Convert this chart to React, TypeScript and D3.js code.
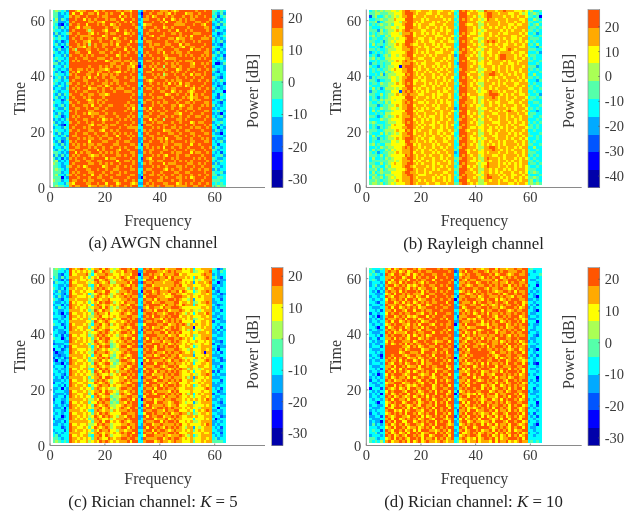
import React from "react";
import * as d3 from "d3";

// Colour levels per cell: 0 = lowest band of the colour bar, 9 = highest.
// Each string is one time row, top row first; spaces only group the frequency bins.
const awgnRows = [
"565453 99878 89997 89899 99889 88799 43 89989 98889 87899 99998 99899 55454",
"553434 97997 99889 79989 89997 99899 31 99899 88987 98999 78899 89999 54353",
"553344 89889 98999 89889 99979 89899 42 98978 99989 89998 99898 99899 45245",
"463543 99899 79898 99989 88997 99989 34 88999 89799 78989 89889 99998 53434",
"553334 98999 99889 88799 99899 89799 44 99989 98979 99889 89998 89989 44354",
"542143 89989 97999 89899 78989 99989 34 78899 99899 98888 99989 98799 34535",
"453534 99879 88899 99989 98899 99998 43 89998 99789 89999 98999 99889 43244",
"544343 98999 98689 99879 99799 89899 44 99889 89998 99799 89899 99989 35443",
"353445 89989 99879 89989 88999 78989 34 98999 99899 88989 99988 89999 44234",
"435343 99898 88899 99789 99989 99899 43 99879 98899 99989 89799 99898 34345",
"545443 98998 99889 88989 97899 89999 42 89999 89998 89788 99899 98889 53434",
"434234 99899 88799 98999 89889 99798 44 98899 99989 98898 99989 89999 43453",
"453435 99989 89698 99889 89799 98999 33 99898 89988 99979 88999 99899 34324",
"344143 89988 79898 99899 99889 89899 43 89889 99899 89987 99889 98999 54434",
"435334 98699 98899 89989 98999 79989 44 99989 88999 98899 99798 89989 43243",
"543434 99889 99799 98899 89989 98998 34 98999 89799 89889 98999 99889 34534",
"344353 89998 98989 99989 99789 89999 42 89899 99889 99989 89899 98989 54342",
"454434 99899 88999 88899 89989 99899 33 99989 89978 88999 99989 89899 43453",
"435344 98989 99898 99978 98889 88989 44 98899 99899 98989 88899 99998 44344",
"553434 99999 99999 99999 88998 99788 24 99989 89989 89899 99879 98989 41135",
"344354 99999 99899 98989 89889 98879 13 89898 99699 88989 99889 99899 34443",
"543443 89988 98989 98878 99989 98989 44 99979 88989 99789 98999 89989 54343",
"434234 98979 99889 88998 98779 89989 34 98899 99899 89899 89989 99899 43244",
"454434 89899 98899 79889 89899 99899 43 99989 89689 98998 99798 89899 34434",
"345353 99889 89798 99899 88999 89989 44 89998 98899 99899 89989 98999 54324",
"454344 98999 88999 89989 98899 99889 33 98789 99989 89889 99899 89989 43454",
"543435 89989 98989 99889 89899 89999 44 99899 89897 98979 88999 99899 34342",
"435434 99899 89899 88978 99989 98999 42 89989 99889 99889 78989 98999 44234",
"344335 98989 99788 99899 89888 99989 34 98899 89989 88999 99879 89989 53434",
"543444 99899 88999 89899 98999 88899 44 99989 98899 78989 98789 99899 34441",
"435354 89998 99889 98878 99999 99989 43 89899 99978 99899 89798 98999 44254",
"453434 98999 89899 99899 99999 99899 33 99989 88999 89998 98788 99889 43244",
"344235 99899 98789 88989 99999 99989 44 98899 99899 98989 99798 89999 34453",
"544344 89989 99889 89899 99999 98999 34 89989 89889 99899 88989 99889 44324",
"434534 98999 88979 98998 89999 89889 42 99989 98999 88978 99899 98989 53434",
"543354 99889 98998 89989 99999 98979 44 89799 99899 89989 98899 89999 34344",
"344434 89899 99889 99899 99999 89989 33 98989 89989 99899 89989 99889 44543",
"435344 99899 89788 89989 98999 99899 44 99899 98899 98879 99899 98999 34314",
"454234 98989 99989 98899 99899 98989 43 88999 89989 89989 98998 89989 43453",
"343435 99899 88999 89789 89989 89899 34 99798 99699 99889 89999 99899 54334",
"534344 89989 98989 99899 99899 99989 34 89989 88999 89989 99789 88999 34454",
"453214 99899 99879 88989 88999 89899 42 98899 99889 98999 89989 99898 43534",
"344354 98999 89899 99889 99989 98888 44 99989 89899 88989 99898 89989 44243",
"454434 89989 99889 98799 89899 99998 34 89899 99788 99899 88999 98999 35434",
"435344 99899 88998 99989 98989 89899 43 98999 89998 89989 99889 99889 43314",
"543453 98899 99899 89889 99799 98989 44 99889 99899 98899 89989 89999 54443",
"344335 99989 89889 98998 89989 99899 33 89989 88979 99889 99899 98989 34334",
"435234 89899 99799 99889 99899 88999 34 99899 98989 89999 89889 99889 43453",
"543534 98989 89889 88999 98899 99889 42 88999 99889 98889 99799 89999 44244",
"344354 99889 99898 99899 89989 89998 44 98989 89799 89989 98999 98998 35434",
"435434 88999 88999 79899 99879 98999 34 99889 99889 98999 89889 99899 54344",
"554343 99798 98899 98989 89899 99889 33 89899 98999 89889 99798 89989 43424",
"353534 98989 99878 89899 99889 89989 44 99989 89879 99899 88999 98999 34453",
"534243 89899 89989 99979 88999 99899 42 98799 99899 89899 99989 89899 54334",
"563434 99889 98899 88999 99799 88989 43 99889 88999 98989 89899 99989 43454",
"654344 98999 99889 98989 89989 99989 34 89899 99798 88999 98899 89899 35344",
"554335 89989 78999 99789 99899 89899 33 99989 89989 99889 89989 98999 54434",
"565434 99899 98899 89989 98899 99889 44 98899 99879 89989 99899 89889 35344",
"555344 98989 99889 99899 89989 89999 43 89989 98999 98899 88999 99899 54453",
"564435 89899 89979 98989 99889 99889 34 99889 89899 89989 99899 89989 55344",
"555143 99989 99899 88999 89999 98999 31 89999 98989 99889 89789 99899 44554",
"655344 98899 89889 99899 98899 89989 44 99899 88999 89989 99989 98999 55544",
"554435 87999 98899 89979 99789 99878 33 98989 99889 99789 89899 89989 45454",
"565544 89889 99788 98889 89899 89899 44 89889 89988 89888 89988 99899 55655",
];

const rayleighRows = [
"456565 667767 8998 877888788778887 54 989 8787 66 9888788988877787 56445",
"556655 566777 8999 878887788788878 45 999 7888 77 8998878887788767 45654",
"256445 656767 8899 788878887878888 54 999 8878 67 8998888788787887 55451",
"445565 566877 7999 888787888887878 45 989 8788 76 7988788878888778 44654",
"556345 666776 8899 878788878788788 54 999 8887 67 8888878878878878 55445",
"454565 565777 8999 787888778887888 45 998 7788 66 8788878887787788 54564",
"544455 667767 7999 887887887878788 54 999 8878 67 8878788787878888 45545",
"555364 566787 8998 888778878878778 44 999 8878 76 7888887878788878 55454",
"454565 567776 8889 788787878788788 45 989 8778 67 8878878778888787 44534",
"564544 657777 8999 788878887778887 54 899 7888 77 8878788888778878 55445",
"455445 566767 7899 887788787887878 45 999 8877 66 8788878788778788 45554",
"554453 567677 7999 878788778878877 54 989 8788 67 8989878878788787 54544",
"464554 566787 8998 778878878787888 44 999 8878 76 8878788778878878 45464",
"445434 656777 8899 887877887787778 45 999 7888 67 7888878788888778 54435",
"554544 566677 8889 878887878878788 54 989 8787 76 8878887789878888 55544",
"345454 567777 7899 878787887778887 45 899 8878 67 8778878888788778 44453",
"454345 657767 8899 788878787888878 34 998 8787 67 8878789988878787 45544",
"564544 667777 7889 887788878887878 54 999 7888 66 8788789988878878 54544",
"445455 566787 8988 788878878878788 45 989 8778 67 8878888787887788 55445",
"355454 557777 8889 878778887788878 43 999 8878 77 8778887887787888 44454",
"544354 566771 8999 887878878787878 54 999 8788 67 8887878878788878 55534",
"454545 567877 8899 787887887878788 44 899 8887 66 7887878878788788 45454",
"454454 656777 8899 878878788788878 45 998 8778 67 8889878878878788 54445",
"445463 566677 7989 878788878878788 54 999 7888 76 8899887887878878 44644",
"354555 567767 8899 887878878787887 44 989 8788 67 8878788788887878 55454",
"554344 557767 8999 778778887887878 45 999 8878 77 8788878878788787 44435",
"455465 566787 8989 788878787878788 54 899 8787 66 8887878788877888 54544",
"544455 567777 7999 888778878788788 44 989 8788 76 8878878878878878 45454",
"464534 666767 8899 787887878887878 45 999 8878 67 8878788887788788 55445",
"355444 557772 8989 878787888787788 54 999 8887 67 7898878788878788 44544",
"554464 566787 8898 887788878778878 45 989 7888 77 8899987878788778 54453",
"454354 567777 7999 878887878788878 44 899 8778 66 8889878878878887 45545",
"455465 667677 8899 788878887878788 54 999 8878 67 8788878878788878 55444",
"544554 657777 8989 887787887878778 45 998 8878 67 8878778887788788 44554",
"555345 566787 8899 788878878788878 44 989 8787 76 8878878788878878 54445",
"454465 567767 8899 878787887788788 34 999 8887 67 7888788878778887 45454",
"464544 556777 7999 787788878878887 54 899 7888 66 8878878789878878 54434",
"445454 667777 8899 878878887878878 45 999 7878 67 8887788878887887 45544",
"554345 656787 8889 887878778878788 44 989 8788 76 8788878878788788 55445",
"444465 567777 8999 788787878878878 45 899 8878 67 8878878878878788 44454",
"565444 566677 8989 878788878788788 54 999 8787 66 8887778887878878 54545",
"454554 557877 7999 887878778878787 44 989 8887 67 8788878878788778 45454",
"454354 567777 8899 878788878878788 45 899 8778 77 8878787878878887 55454",
"555445 666787 7989 787888788778878 54 998 7888 67 8778878878788878 44544",
"544464 656767 8899 788878788787887 44 999 8878 66 8878788887878788 54445",
"464544 567777 8889 887878878878778 45 989 8788 67 8887788878878878 55454",
"455354 566787 8999 878788778887878 54 899 8778 76 7888788878788787 44454",
"454455 557767 7998 878878787887788 45 999 8878 67 8878878788878878 54544",
"564544 667777 7899 787888878788878 44 989 8787 67 8787878788887878 55445",
"445465 566777 8989 887878878878788 45 899 8887 66 8899878878878788 44644",
"464544 657677 8889 878788787887888 54 998 7878 67 8889887878788878 54454",
"545345 566787 8889 788788878788788 34 999 7888 77 8788878878878878 55544",
"555464 567777 7989 878878788878878 44 989 8788 67 8887788788887878 45454",
"464454 656777 8899 878788878878788 55 899 8878 66 8988878788878787 54544",
"455555 566767 8889 787887878887878 45 999 8778 76 8878878878788788 55454",
"554464 567877 8899 878788878788878 54 989 8887 67 7988878787878788 45545",
"465544 657777 8998 788887878878788 45 899 7878 67 8988878878878787 54454",
"556464 566677 7899 878878878788878 55 999 8788 66 8878788787878887 55544",
"464565 557777 8998 878878788887788 45 998 8878 67 8878787888788787 45654",
"556454 666777 8899 887778887878878 54 989 8887 76 8988878788778878 54445",
"465564 567677 8889 878888878787878 45 899 8878 67 8998887878788787 55654",
"556545 566787 8889 887878878887878 44 999 7888 66 8878878778878788 56454",
"566564 567677 7889 878887887788788 55 899 8787 66 7888878887787887 56565",
];

const ricianFiveRows = [
"565453 9878987 57 889798 767 8998979 44 989788997888997878 4 778888 54235",
"554434 9787878 75 987988 678 8798899 33 899998878989887778 5 677889 44354",
"553244 9778889 64 788898 877 8788799 14 998988798889978877 7 778988 34344",
"453534 8888787 57 879987 787 8987998 43 889979889798888787 4 877898 45324",
"543243 9878778 76 997898 678 7898889 44 799899887898997777 5 767888 34433",
"354434 9778887 67 898789 668 8889799 32 988988878889987878 3 788789 44134",
"443343 9887788 54 879888 787 8987989 44 899788888889897788 7 778878 33434",
"543424 8878878 75 898987 877 7899988 43 988899787898888768 5 877888 24344",
"435334 9788787 77 988799 776 8889899 41 899789888988979877 4 678898 43244",
"344324 9778878 46 789898 678 8978899 34 989889878799887788 6 778878 33423",
"435343 9887778 75 898787 687 8898988 33 799998887789998878 7 787888 44334",
"543244 8878888 67 987889 777 7889899 44 988979888998987768 3 777888 34424",
"433434 9787787 57 879899 867 8798889 43 899788998889978878 5 678898 33444",
"344243 9887878 74 898788 787 8987998 44 989999879889879888 4 877788 43234",
"435434 9878778 67 889798 676 8889899 33 879988798899987777 7 778878 34344",
"443344 8888787 56 987988 678 7898989 42 988979989788898778 6 767888 34424",
"343143 9778878 75 898879 777 8987899 44 899898878998987687 4 788798 43344",
"444324 9887878 66 889778 787 8889988 43 989799889899978878 7 778878 33434",
"334344 9778788 57 798989 867 7998989 34 899988798989887878 5 677888 44234",
"443434 8888887 75 987898 778 8789899 33 988989978989897777 3 778878 24433",
"544234 9788878 64 889789 687 8898998 44 799998899788989868 7 878878 44344",
"334424 9887788 57 898788 777 8987899 43 989788987898987888 1 778788 43424",
"343344 9878787 75 987899 678 7889889 42 899899879899987868 4 767888 34243",
"443324 8888878 67 789898 787 8998979 34 988988997989897778 7 788878 33434",
"434243 9778778 56 898987 876 8878899 44 899998889788977878 5 678888 44334",
"544134 9887878 75 879899 777 8989979 43 979889898998898787 4 778898 33444",
"344433 9878878 76 987898 678 7898899 33 899788978898987787 7 877878 43324",
"233344 8888787 57 898788 567 8889989 44 988999889789887878 6 778778 24434",
"443423 9778888 64 879899 567 8997899 32 899979898998977887 4 678888 44233",
"144234 9887778 75 898787 676 8889988 44 989879998889987768 7 778878 34144",
"313344 9878787 66 988898 767 7898999 43 899898879898898778 5 778188 43424",
"332334 8888878 74 889778 657 8987899 44 988978998988978888 3 777878 33344",
"243423 9778878 57 798989 567 8879899 33 799999879889987677 7 878788 44324",
"314334 9887787 56 889787 665 8998879 44 979888898798898787 5 677898 34423",
"433143 9878878 75 987899 756 7889989 41 899979989889887878 4 778878 33344",
"344424 8888778 67 898788 667 8897899 44 988899878998977788 7 788778 43424",
"434334 9778788 54 879898 777 8978998 33 799888998789898868 6 767888 44334",
"443434 9887878 75 987989 786 8889899 34 989979889898987787 4 778878 24244",
"344324 9878787 76 898778 678 7998989 44 899788898989987778 7 678898 43433",
"434243 8888878 57 889799 877 8879899 42 988998798898887868 3 877878 33344",
"333434 9778878 65 898987 677 8898988 43 899879988989897788 5 778788 44424",
"244344 9887788 77 987898 678 8987899 33 979998889788977787 7 787888 34334",
"443424 9878878 46 789889 787 7889989 34 899889798998987878 4 678878 33344",
"334143 8888787 75 898787 667 8998899 44 988979989889877888 6 777898 43424",
"344433 9778878 67 889798 876 8878989 43 899798888798977778 7 778778 44234",
"433343 9887788 57 987899 765 8987899 44 989879998989897868 4 787888 24433",
"334424 9878787 74 898788 566 7889988 33 799999879888987787 5 778878 43344",
"244334 8888878 66 879899 656 8998979 41 988978898899887878 7 878798 33434",
"344234 9778788 57 798988 565 8879899 44 899979988789987677 3 678888 44324",
"434343 9887878 75 987898 667 7898899 42 979888898788977788 6 777878 34433",
"333414 9878778 76 889789 767 8987998 34 899789989898887878 7 768888 44144",
"344324 8888787 54 898788 687 8889899 43 988998879889977787 4 787898 33434",
"434344 9778878 75 879898 777 7998889 44 799898898978898868 5 678878 44334",
"344134 9887878 67 987989 876 8879989 33 979889978898987788 7 877888 34423",
"243344 9878787 56 898778 678 8898999 34 899978889789887777 4 777878 41344",
"433424 8888888 75 889799 787 8987899 44 988899798998977878 6 678888 33434",
"334344 9778778 66 798988 677 7889889 43 899788988889897787 7 778798 34344",
"444234 9887787 57 987898 678 8997989 33 979989879898987688 3 767888 43424",
"344424 9878878 75 879889 776 8878899 44 899798998789887878 5 787888 44334",
"434344 8888778 67 898788 787 8989979 34 988979888998977788 7 778778 34424",
"453444 9778788 54 889798 677 7889899 44 799988898788898768 4 678888 43434",
"554344 9887878 75 898779 878 8998998 43 988889978989987878 6 778878 45344",
"565454 9878778 67 879898 787 8889799 44 899978988789887778 5 778788 55554",
];

const ricianTenRows = [
"544454 87978 98899 89788 99998 98899 34 88998 98878 89979 88788 98899 45444",
"453344 89889 78978 99899 88999 99989 23 89799 88998 79889 89988 89989 44344",
"545434 98799 89879 78989 99889 98999 43 78989 98899 98978 99878 99889 34445",
"443344 88989 97899 79899 89979 99899 33 89889 99879 89899 78989 89999 44434",
"454344 89799 88979 98988 99799 89998 24 98798 89988 88979 98899 98979 43344",
"344434 97889 79899 89879 89989 99989 43 88989 97899 89889 88798 99889 44434",
"345343 89978 98978 78989 98899 89899 34 89878 99889 98989 89979 89898 34414",
"443434 97899 89879 89788 99879 99979 33 98999 88998 79889 98878 98999 44344",
"434243 89889 79899 98979 89989 89899 44 78989 79899 89878 89989 79889 43434",
"443334 78979 98989 88879 98899 98999 34 99878 98989 88998 97899 89989 34344",
"344344 98799 88978 97899 79989 99898 42 88998 89789 98889 89887 98899 44314",
"434434 79889 89799 89788 99899 89989 14 89899 98879 89979 78989 99889 33434",
"443244 89978 97989 78989 89889 99799 43 98889 79899 88989 98799 89978 44344",
"344434 98889 89878 98799 78999 89989 34 88998 89978 98789 89889 98979 43424",
"433344 89799 78989 89788 99989 98899 33 97899 98899 89889 78999 89789 34344",
"443424 88979 98799 79989 88999 89999 44 89789 89979 88998 99878 98899 44314",
"244344 79899 89889 98879 98979 99889 34 98989 78989 79889 89889 89989 43344",
"434134 89978 98978 78999 79899 98999 42 88899 98799 89879 98989 99789 34434",
"343434 98889 89799 89789 98999 89799 43 89978 79889 98978 89899 89878 33344",
"344344 89799 78989 98978 89989 99989 33 98889 89979 89899 78989 98979 44414",
"434434 78989 98879 89799 98799 89889 14 89799 98878 79889 99789 89899 34334",
"443144 97899 89789 88979 89989 99899 44 88978 89999 78989 89788 99889 44344",
"344334 89889 79989 98799 88999 98979 43 98899 98789 99878 98989 89979 43344",
"433344 98978 88799 89889 99799 89899 34 89789 79899 89979 88998 98899 34434",
"443424 89899 98979 78989 78999 99989 33 97989 89888 98899 89879 89889 44324",
"344244 88979 89879 99789 89989 98899 44 89878 98979 88979 99889 98999 43344",
"434334 79899 98889 78998 99878 89979 34 98799 89899 89889 78989 89789 34344",
"343344 89789 89798 98899 89979 99899 43 88989 98878 99889 89799 98978 44434",
"344424 99999 98879 89789 98899 89989 24 89799 88989 79899 98979 89889 43344",
"433344 99999 89789 99978 89979 98899 42 98979 99899 88989 89878 99789 34314",
"443434 99999 78998 88979 99889 89799 33 89889 99999 98799 88989 89979 44344",
"344314 99899 98789 98899 89799 99889 44 98798 99999 89878 99889 98899 43424",
"434424 98979 89978 89789 98979 89899 14 88989 99989 98979 78989 89789 34344",
"343344 89889 79899 78979 89989 98979 43 89799 89899 88998 99789 98878 44344",
"344434 98799 89789 98979 88999 89899 34 98878 98979 79889 89799 89979 34214",
"433344 88979 98978 89799 89889 99789 44 89899 78989 89979 98889 98899 44434",
"443424 89789 79899 98789 99878 89979 42 97979 89899 98789 89979 89879 43344",
"344344 98979 89879 78989 89979 98899 33 88789 98978 89889 79899 98979 44434",
"434134 79899 98789 99878 89799 89979 44 89979 89979 88799 98989 89789 34344",
"343434 89789 88979 78989 98789 98899 43 98899 79899 98979 88978 99889 44414",
"244344 98978 89899 98799 89979 89789 34 88979 98789 89889 98799 89899 43424",
"433434 78899 97889 89879 98979 99899 33 89789 89999 88979 89789 98978 34344",
"443344 89979 89878 78989 99789 89979 44 98979 99978 98799 78989 89889 44434",
"144424 98789 78979 98899 89789 98899 34 89899 89979 89789 98979 89979 44244",
"434344 79899 98799 89789 98979 89979 42 78989 98899 97898 89789 98899 34334",
"343414 89789 89979 98879 89979 99789 14 98878 79789 89979 88999 89789 43344",
"344344 98978 98789 78989 79899 89899 43 89979 98979 88879 98979 98979 44434",
"434434 89799 88979 98799 89789 98979 34 78899 89878 99789 79899 89789 34344",
"443144 78989 97899 89789 98979 89799 33 97979 98979 88989 89789 98899 44414",
"344334 79789 89878 98799 88979 99789 44 89789 89899 79889 98979 89978 43424",
"433344 98799 98979 78989 89799 89979 34 98978 78989 89799 89879 98789 34344",
"343444 89978 79789 98879 98979 89899 42 88979 97889 98979 88979 89789 44434",
"244344 78989 89799 89789 89979 98979 43 89799 89878 89789 98799 98979 34244",
"334424 98789 98879 98979 78989 89799 24 98979 98979 78979 89789 89789 43424",
"433344 89799 78989 89789 98799 98789 43 79789 89799 98789 79979 98799 44344",
"343314 98979 97799 78989 89979 89979 34 89978 98878 89799 98799 89978 34434",
"353434 89789 89789 98879 98979 99878 33 78989 89979 78979 88979 98789 44314",
"444344 78979 98978 89789 89799 89899 44 98799 78999 98789 89879 89979 43344",
"454424 98799 89789 79799 98878 98979 34 89789 98978 89798 98979 78899 44344",
"445344 89789 78979 98978 89979 89789 43 97789 89789 88979 89789 98978 34434",
"344434 98978 98799 89879 97899 98979 33 78989 98799 89789 78979 89789 44344",
"554344 78979 89879 98979 88979 89789 44 89878 79789 98979 78899 98979 44444",
"545464 89788 98979 78978 98878 98788 45 78978 89788 87979 88978 78988 45454",
];

const rowsByPanel = [awgnRows, rayleighRows, ricianFiveRows, ricianTenRows];
const colourDomains: [number, number][] = [[-32.6, 22.5], [-44.6, 26.9], [-34, 22.8], [-32.4, 23.7]];
const colourTicks = [
  [-30, -20, -10, 0, 10, 20],
  [-40, -30, -20, -10, 0, 10, 20],
  [-30, -20, -10, 0, 10, 20],
  [-30, -20, -10, 0, 10, 20],
];
const jetTen = ["#0000aa", "#0000ff", "#0055ff", "#00aaff", "#00ffff", "#55ffaa", "#aaff55", "#ffff00", "#ffaa00", "#ff5500"];
const axisTicks = [0, 20, 40, 60];
const captions = ["(a) AWGN channel", "(b) Rayleigh channel", "(c) Rician channel: ", "(d) Rician channel: "];
const captionTails = ["", "", " = 5", " = 10"];

const FONT = "'Liberation Serif', 'Times New Roman', serif";
const INK = "#3a3a3a";
const AXIS = "#8a8a8a";

// Frame of each panel
const frames = [
  { x0: 50, x60: 214.7, xEnd: 265, top: 9.5, bottom: 187.5, barL: 271.5, barR: 283, labelX: 258, labelY: 91, capX: 153, capY: 248, freqX: 158, freqY: 226 },
  { x0: 366.3, x60: 530.3, xEnd: 581.7, top: 9.5, bottom: 187.5, barL: 588, barR: 599.7, labelX: 574, labelY: 91, capX: 473.5, capY: 249, freqX: 474.5, freqY: 226 },
  { x0: 50, x60: 214.7, xEnd: 265, top: 267.5, bottom: 445.5, barL: 271.5, barR: 283, labelX: 258, labelY: 352, capX: 153, capY: 507, freqX: 158, freqY: 484 },
  { x0: 366.3, x60: 530.3, xEnd: 581.7, top: 267.5, bottom: 445.5, barL: 588, barR: 599.7, labelX: 574, labelY: 352, capX: 473.5, capY: 507, freqX: 474.5, freqY: 484 },
];

function Panel({ index }: { index: number }) {
  const f = frames[index];
  const rows = rowsByPanel[index].map((r) => r.replace(/\s/g, ""));
  const [lo, hi] = colourDomains[index];
  const x = d3.scaleLinear().domain([0, 60]).range([f.x0, f.x60]);
  const y = d3.scaleLinear().domain([0, 64]).range([f.bottom, f.top]);
  const color = d3.scaleQuantize<string>().domain([lo, hi]).range(jetTen);
  const step = (hi - lo) / jetTen.length;
  const barY = d3.scaleLinear().domain([lo, hi]).range([f.bottom, f.top]);
  const cellW = x(2) - x(1);
  const cellH = y(1) - y(2);
  return (
    <g>
      <g shapeRendering="crispEdges">
        {rows.map((row, r) =>
          row.split("").map((c, k) => {
            const value = lo + (Number(c) + 0.5) * step;
            const timeTop = 64 - r;
            return (
              <rect
                key={`${r}-${k}`}
                x={x(k + 1)}
                y={y(timeTop)}
                width={cellW + 0.6}
                height={cellH + 0.6}
                fill={color(value)}
              />
            );
          })
        )}
      </g>
      <path d={`M${f.x0},${f.top}V${f.bottom}H${f.xEnd}`} fill="none" stroke={AXIS} strokeWidth={1} />
      {axisTicks.map((t) => (
        <g key={`x${t}`}>
          <line x1={x(t)} x2={x(t)} y1={f.bottom} y2={f.bottom - 2} stroke={AXIS} />
          <text x={x(t)} y={f.bottom + 14.5} textAnchor="middle" fontSize={14.5} fill={INK} fontFamily={FONT}>{t}</text>
        </g>
      ))}
      {axisTicks.map((t) => (
        <g key={`y${t}`}>
          <line x1={f.x0} x2={f.x0 + 2} y1={y(t)} y2={y(t)} stroke={AXIS} />
          <text x={f.x0 - 5} y={y(t) + 5} textAnchor="end" fontSize={14.5} fill={INK} fontFamily={FONT}>{t}</text>
        </g>
      ))}
      <text x={f.freqX} y={f.freqY} textAnchor="middle" fontSize={16} fill={INK} fontFamily={FONT}>Frequency</text>
      <text
        transform={`translate(${f.x0 - 25},${(f.top + f.bottom) / 2}) rotate(-90)`}
        textAnchor="middle"
        fontSize={16}
        fill={INK}
        fontFamily={FONT}
      >
        Time
      </text>
      <g shapeRendering="crispEdges">
        {jetTen.map((c, i) => (
          <rect
            key={c}
            x={f.barL}
            width={f.barR - f.barL}
            y={barY(lo + (i + 1) * step)}
            height={barY(lo + i * step) - barY(lo + (i + 1) * step) + 0.5}
            fill={c}
          />
        ))}
      </g>
      <rect x={f.barL} y={f.top} width={f.barR - f.barL} height={f.bottom - f.top} fill="none" stroke={AXIS} strokeWidth={0.7} />
      {colourTicks[index].map((t) => (
        <g key={`c${t}`}>
          <line x1={f.barR - 1.5} x2={f.barR} y1={barY(t)} y2={barY(t)} stroke="#555" strokeWidth={0.7} />
          <text x={f.barR + 5} y={barY(t) + 5} fontSize={14.5} fill={INK} fontFamily={FONT}>{t}</text>
        </g>
      ))}
      <text
        transform={`translate(${f.labelX},${f.labelY}) rotate(-90)`}
        textAnchor="middle"
        fontSize={16}
        fill={INK}
        fontFamily={FONT}
      >
        Power [dB]
      </text>
      <text x={f.capX} y={f.capY} textAnchor="middle" fontSize={16.8} fill="#222" fontFamily={FONT}>
        {captions[index]}
        {captionTails[index] && <tspan fontStyle="italic">K</tspan>}
        {captionTails[index]}
      </text>
    </g>
  );
}

export default function App() {
  return (
    <svg
      width={644}
      height={515}
      viewBox="0 0 644 515"
      style={{ position: "absolute", left: 0, top: 0, background: "#fff", filter: "blur(0.35px)" }}
    >
      {frames.map((_, i) => (
        <Panel key={i} index={i} />
      ))}
    </svg>
  );
}
